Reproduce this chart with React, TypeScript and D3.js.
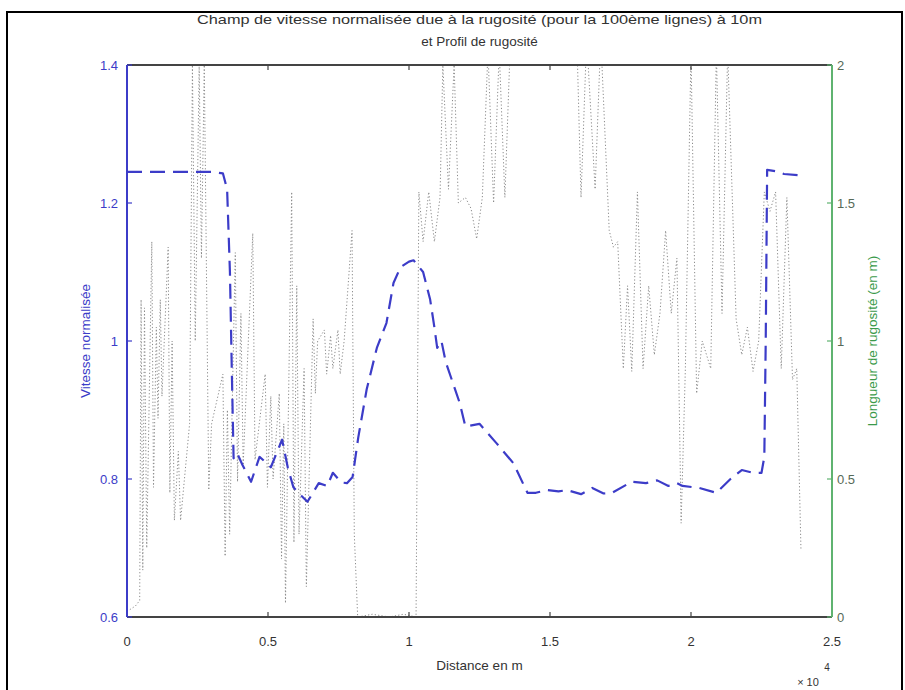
import React from "react";
import * as d3 from "d3";

// ---------- data ----------
// distance (x 10^4 m) and normalised velocity (left axis)
const speedX = [0.0, 0.1, 0.2, 0.3, 0.34, 0.355, 0.365, 0.372, 0.378, 0.39, 0.41, 0.44, 0.47, 0.49, 0.51, 0.55, 0.57, 0.59, 0.62, 0.64, 0.68, 0.71, 0.73, 0.76, 0.78, 0.8, 0.82, 0.85, 0.886, 0.92, 0.945, 0.97, 1.0, 1.016, 1.05, 1.075, 1.09, 1.1, 1.115, 1.13, 1.18, 1.2, 1.25, 1.31, 1.37, 1.42, 1.45, 1.49, 1.53, 1.56, 1.61, 1.65, 1.69, 1.72, 1.79, 1.84, 1.88, 1.92, 1.95, 1.97, 2.03, 2.09, 2.14, 2.18, 2.22, 2.25, 2.26, 2.265, 2.27, 2.3, 2.33, 2.39];
const speedV = [1.245, 1.245, 1.245, 1.245, 1.243, 1.22, 1.1, 0.95, 0.83, 0.838, 0.82, 0.796, 0.832, 0.825, 0.817, 0.857, 0.817, 0.788, 0.775, 0.767, 0.794, 0.79, 0.809, 0.795, 0.794, 0.803, 0.86, 0.93, 0.99, 1.026, 1.084, 1.107, 1.115, 1.117, 1.1, 1.06, 1.02, 0.99, 1.0, 0.97, 0.91, 0.876, 0.88, 0.852, 0.823, 0.78, 0.78, 0.784, 0.782, 0.784, 0.778, 0.787, 0.779, 0.78, 0.796, 0.794, 0.798, 0.79, 0.794, 0.79, 0.787, 0.78, 0.8, 0.813, 0.809, 0.809, 0.832, 1.0, 1.248, 1.246, 1.242, 1.24];

// distance (x 10^4 m) and roughness length (right axis)
const roughX = [0.0, 0.03, 0.045, 0.05, 0.056, 0.062, 0.07, 0.088, 0.094, 0.104, 0.11, 0.118, 0.124, 0.146, 0.152, 0.16, 0.168, 0.182, 0.19, 0.222, 0.232, 0.242, 0.256, 0.264, 0.274, 0.29, 0.3, 0.34, 0.348, 0.356, 0.364, 0.384, 0.392, 0.404, 0.412, 0.446, 0.454, 0.49, 0.498, 0.51, 0.518, 0.54, 0.548, 0.556, 0.562, 0.584, 0.592, 0.602, 0.61, 0.628, 0.636, 0.66, 0.668, 0.676, 0.7, 0.708, 0.722, 0.73, 0.748, 0.756, 0.77, 0.798, 0.806, 0.818, 0.87, 0.93, 0.98, 1.025, 1.035, 1.05, 1.07, 1.09, 1.11, 1.12, 1.14, 1.16, 1.175, 1.2, 1.22, 1.24, 1.26, 1.28, 1.3, 1.32, 1.34, 1.36, 1.4, 1.5, 1.59, 1.61, 1.63, 1.66, 1.68, 1.71, 1.725, 1.74, 1.76, 1.775, 1.79, 1.81, 1.83, 1.85, 1.87, 1.89, 1.91, 1.93, 1.95, 1.965, 1.98, 2.0, 2.02, 2.04, 2.07, 2.09, 2.11, 2.13, 2.16, 2.18, 2.2, 2.22, 2.24, 2.26, 2.28, 2.3, 2.32, 2.34, 2.36, 2.375, 2.39];
const roughV = [0.02, 0.04, 0.06, 1.15, 0.17, 1.12, 0.25, 1.36, 0.47, 1.05, 0.72, 1.15, 0.8, 1.34, 0.45, 1.0, 0.35, 0.6, 0.35, 0.7, 2.0, 1.0, 2.0, 1.3, 2.0, 0.46, 0.7, 0.88, 0.22, 0.75, 0.3, 1.32, 0.49, 1.1, 0.55, 1.39, 0.57, 0.88, 0.47, 0.8, 0.5, 0.81, 0.21, 0.7, 0.05, 1.54, 0.27, 1.2, 0.3, 0.9, 0.11, 1.08, 0.81, 1.0, 1.04, 0.88, 1.02, 0.9, 1.04, 0.88, 1.0, 1.4, 0.3, 0.0, 0.01, 0.0, 0.01, 0.0, 1.54, 1.36, 1.54, 1.36, 1.52, 2.0, 1.55, 2.0, 1.5, 1.52, 1.48, 1.37, 1.52, 2.05, 1.5, 2.05, 1.52, 2.1, 2.4, 2.5, 2.3, 1.52, 2.1, 1.55, 2.1, 1.4, 1.34, 1.36, 0.9, 1.2, 0.89, 1.54, 0.9, 1.2, 0.95, 1.1, 1.4, 1.1, 1.3, 0.34, 0.9, 2.05, 0.81, 1.0, 0.9, 2.05, 1.1, 2.05, 1.08, 0.95, 1.05, 0.89, 1.0, 1.54, 1.47, 1.54, 0.9, 1.52, 0.86, 0.9, 0.24];

const xTicks = [0, 0.5, 1, 1.5, 2, 2.5];
const leftTicks = [0.6, 0.8, 1, 1.2, 1.4];
const rightTicks = [0, 0.5, 1, 1.5, 2];

const titleLine1 = "Champ de vitesse normalisée due à la rugosité (pour la 100ème lignes) à 10m";
const titleLine2 = "et Profil de rugosité";
const xLabel = "Distance en m";
const yLabelLeft = "Vitesse normalisée";
const yLabelRight = "Longueur de rugosité (en m)";

// ---------- layout ----------
const W = 905;
const H = 690;
const L = 127, R = 832, T = 65, B = 617;
const BLUE = "#3c3cc8";
const GREEN = "#5fb370";
const FONT = "'Liberation Sans', Arial, sans-serif";

export default function App() {
  const x = d3.scaleLinear().domain([0, 2.5]).range([L, R]);
  const yl = d3.scaleLinear().domain([0.6, 1.4]).range([B, T]);
  const yr = d3.scaleLinear().domain([0, 2]).range([B, T]);

  const speedPts = speedX.map((d, i) => [d, speedV[i]] as [number, number]);
  const roughPts = roughX.map((d, i) => [d, roughV[i]] as [number, number]);

  const speedLine = d3.line<[number, number]>().x(d => x(d[0])).y(d => yl(d[1]))(speedPts) || "";
  const roughLine = d3.line<[number, number]>().x(d => x(d[0])).y(d => yr(d[1]))(roughPts) || "";

  const tk = 5;

  return (
    <svg width={W} height={H} style={{ position: "absolute", left: 0, top: 0, background: "#fff" }} fontFamily={FONT}>
      <defs>
        <clipPath id="plotClip">
          <rect x={L} y={T} width={R - L} height={B - T} />
        </clipPath>
      </defs>
      <rect x={0} y={0} width={W} height={H} fill="#fff" />
      {/* figure frame */}
      <rect x={7} y={12} width={895} height={700} fill="none" stroke="#000" strokeWidth={2} />

      {/* title */}
      <text x={(L + R) / 2} y={24} textAnchor="middle" fontSize={13.5} fill="#333" textLength={565} lengthAdjust="spacingAndGlyphs">{titleLine1}</text>
      <text x={(L + R) / 2} y={46} textAnchor="middle" fontSize={13.5} fill="#333">{titleLine2}</text>

      {/* data */}
      <g clipPath="url(#plotClip)">
        <path d={roughLine} fill="none" stroke="#8a8a8a" strokeWidth={1} strokeDasharray="1.2 2.2" />
        <path d={speedLine} fill="none" stroke={BLUE} strokeWidth={2.2} strokeDasharray="15 8" strokeLinejoin="round" />
      </g>

      {/* top & bottom axes */}
      <line x1={L} x2={R} y1={T} y2={T} stroke="#444" strokeWidth={1.8} />
      <line x1={L} x2={R} y1={B} y2={B} stroke="#444" strokeWidth={1.8} />
      {xTicks.map(t => (
        <g key={"xt" + t}>
          <line x1={x(t)} x2={x(t)} y1={B} y2={B - tk} stroke="#444" strokeWidth={1.2} />
          <line x1={x(t)} x2={x(t)} y1={T} y2={T + tk} stroke="#444" strokeWidth={1.2} />
          <text x={x(t)} y={646} textAnchor="middle" fontSize={13} fill="#333">{String(t)}</text>
        </g>
      ))}

      {/* left axis */}
      <line x1={L} x2={L} y1={T} y2={B} stroke={BLUE} strokeWidth={2} />
      {leftTicks.map(t => (
        <g key={"yl" + t}>
          <line x1={L} x2={L + tk} y1={yl(t)} y2={yl(t)} stroke={BLUE} strokeWidth={1.2} />
          <text x={118} y={yl(t) + 4.5} textAnchor="end" fontSize={13} fill={BLUE}>{String(t)}</text>
        </g>
      ))}

      {/* right axis */}
      <line x1={R} x2={R} y1={T} y2={B} stroke={GREEN} strokeWidth={2} />
      {rightTicks.map(t => (
        <g key={"yr" + t}>
          <line x1={R} x2={R - tk} y1={yr(t)} y2={yr(t)} stroke={GREEN} strokeWidth={1.2} />
          <text x={837} y={yr(t) + 4.5} textAnchor="start" fontSize={13} fill="#566a58">{String(t)}</text>
        </g>
      ))}

      {/* axis labels */}
      <text x={(L + R) / 2} y={670} textAnchor="middle" fontSize={13.5} fill="#333">{xLabel}</text>
      <text transform={`translate(90,${(T + B) / 2}) rotate(-90)`} textAnchor="middle" fontSize={13.5} fill={BLUE}>{yLabelLeft}</text>
      <text transform={`translate(877,${(T + B) / 2}) rotate(-90)`} textAnchor="middle" fontSize={13.5} fill="#3a9a4a">{yLabelRight}</text>

      {/* exponent */}
      <text x={808} y={686} textAnchor="middle" fontSize={11} fill="#333">× 10</text>
      <text x={827} y={671} textAnchor="middle" fontSize={10} fill="#333">4</text>
    </svg>
  );
}
